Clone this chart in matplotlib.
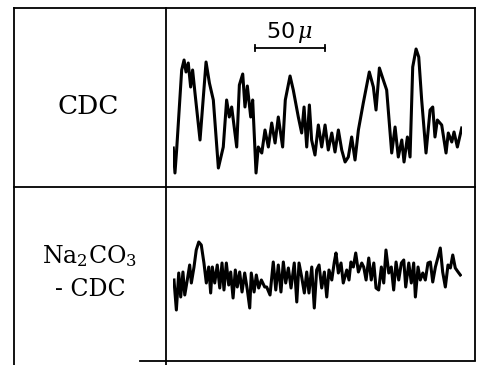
import matplotlib
matplotlib.use("Agg")
import matplotlib.pyplot as plt

plt.rcParams['font.family'] = ['DejaVu Serif', 'DejaVu Sans']
plt.rcParams['mathtext.fontset'] = 'dejavuserif'

# scan position (um) and intensity (arbitrary units)
cdc_pos = [0.2, 1.4, 2.6, 6.2, 7.9, 9.3, 10.9, 12.6, 14.0, 15.7, 19.3, 23.6, 26.0,
           28.8, 32.4, 35.9, 38.3, 40.2, 41.9, 45.5, 47.4, 49.8, 51.4, 53.1, 55.5,
           56.9, 59.3, 60.9, 63.4, 65.7, 68.1, 70.5, 72.9, 75.2, 78.3, 80.2, 83.6,
           85.9, 89.5, 91.9, 93.6, 95.5, 97.4, 99.0, 101.4, 103.8, 106.2, 108.6,
           110.9, 113.4, 115.7, 118.1, 120.5, 122.9, 125.2, 127.6, 130.0, 132.4,
           135.9, 140.2, 143.1, 145.0, 147.4, 150.2, 152.6, 156.2, 158.6, 160.9,
           163.4, 165.0, 167.4, 169.3, 171.2, 173.6, 175.5, 177.6, 180.7, 183.6,
           185.5, 187.1, 188.8, 191.9, 195.0, 196.6, 199.1, 200.7, 203.1, 206.2]
cdc_int = [30, 5, 28, 108, 118, 106, 115, 91, 108, 85, 38, 116, 95,
           78, 10, 31, 78, 61, 71, 31, 93, 104, 71, 92, 61,
           78, 5, 31, 25, 48, 31, 55, 35, 61, 31, 78, 102,
           88, 61, 45, 71, 31, 73, 38, 23, 53, 31, 53,
           28, 45, 26, 48, 28, 16, 21, 41, 18, 48,
           75, 106, 91, 68, 110, 98, 88, 25, 51, 21,
           38, 16, 41, 21, 111, 129, 121, 78, 25, 68,
           71, 41, 58, 53, 25, 45, 36, 46, 31, 50]

na_pos = [0.7, 2.4, 4.1, 5.5, 7.1, 8.4, 10.2, 11.9, 13.1, 15.0, 16.6, 18.4, 20.2,
          22.1, 23.8, 25.5, 26.9, 28.1, 29.8, 31.6, 33.4, 35.0, 36.4, 38.1, 39.8,
          41.2, 42.9, 44.5, 45.9, 47.6, 49.3, 51.2, 53.1, 54.8, 55.9, 57.9, 59.5,
          61.2, 63.1, 65.5, 66.9, 69.3, 71.6, 73.4, 75.2, 77.1, 78.8, 80.5, 82.4,
          84.3, 86.6, 88.4, 90.0, 91.9, 93.8, 95.5, 97.1, 99.1, 100.9, 102.6,
          104.3, 106.2, 108.1, 109.8, 111.4, 113.4, 115.2, 116.4, 118.1, 120.0,
          121.6, 124.1, 125.7, 127.1, 128.8, 130.5, 132.4, 134.8, 136.2, 137.9,
          139.8, 141.6, 143.4, 145.0, 146.9, 148.8, 150.5, 152.1, 154.1, 155.9,
          157.6, 159.3, 161.2, 163.1, 164.8, 166.2, 168.4, 170.2, 171.9, 173.1,
          175.0, 176.6, 178.4, 180.2, 182.1, 183.8, 185.5, 187.4, 189.3, 190.9,
          192.6, 194.5, 196.4, 198.1, 199.8, 201.6, 203.6, 205.2]
na_int = [35, 5, 42, 18, 43, 20, 35, 50, 32, 48, 65, 73, 70,
          52, 32, 48, 22, 48, 32, 50, 27, 52, 25, 52, 30,
          43, 17, 45, 28, 43, 23, 42, 25, 7, 42, 23, 40,
          27, 35, 28, 28, 20, 53, 25, 50, 23, 53, 32, 47,
          27, 52, 13, 52, 38, 22, 43, 22, 48, 7, 45,
          50, 27, 43, 18, 45, 35, 53, 62, 42, 52,
          32, 45, 35, 53, 48, 62, 43, 52, 48, 35,
          57, 35, 52, 27, 25, 48, 32, 65, 42, 48,
          25, 53, 35, 52, 55, 28, 52, 32, 52, 18,
          48, 35, 42, 35, 52, 53, 33, 48, 58, 67,
          43, 28, 50, 47, 60, 47, 43, 40]

row_labels = ["CDC", "Na$_2$CO$_3$\n- CDC"]
scale_um = 50

W, H = 479, 365
fig = plt.figure(figsize=(W / 100, H / 100), dpi=100)

# table frame, in pixel units of the page
frame = fig.add_axes([0, 0, 1, 1])
frame.set_xlim(0, W)
frame.set_ylim(H, 0)
frame.axis("off")
lw = 1.3
frame.plot([14, 475], [8, 8], color="black", lw=lw)
frame.plot([14, 14], [8, 365], color="black", lw=lw)
frame.plot([166, 166], [8, 365], color="black", lw=lw)
frame.plot([475, 475], [8, 360], color="black", lw=lw)
frame.plot([14, 475], [187, 187], color="black", lw=lw)
frame.plot([140, 475], [361, 361], color="black", lw=lw)

frame.text(88, 106, row_labels[0], ha="center", va="center", fontsize=19)
frame.text(90, 272, row_labels[1], ha="center", va="center", fontsize=17,
           linespacing=1.5)

# upper trace
ax1 = fig.add_axes([173 / W, (H - 180) / H, 289 / W, 150 / H])
ax1.set_xlim(0, 206.4)
ax1.set_ylim(-2, 148)
ax1.axis("off")
ax1.plot(cdc_pos, cdc_int, color="black", lw=2.2, solid_joinstyle="round")

# scale bar
x0 = 58.6
ax1.plot([x0, x0 + scale_um], [130, 130], color="black", lw=1.3, clip_on=False)
ax1.plot([x0, x0], [127, 133], color="black", lw=1.3, clip_on=False)
ax1.plot([x0 + scale_um, x0 + scale_um], [127, 133], color="black", lw=1.3,
         clip_on=False)
ax1.text(x0 + scale_um / 2, 133, "50$\\,\\mu$", ha="center", va="bottom",
         fontsize=16, family="DejaVu Sans")

# lower trace
ax2 = fig.add_axes([173 / W, (H - 320) / H, 289 / W, 85 / H])
ax2.set_xlim(0, 206.4)
ax2.set_ylim(-5, 80)
ax2.axis("off")
ax2.plot(na_pos, na_int, color="black", lw=2.2, solid_joinstyle="round")

fig.savefig("out.png", dpi=100)
